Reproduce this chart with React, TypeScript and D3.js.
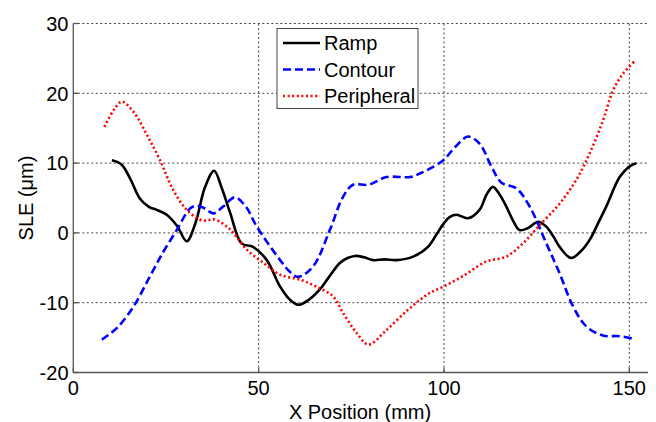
import React from "react";
import * as d3 from "d3";

const rampX = [10.4, 13, 15.5, 18, 20.5, 22.5, 25.2, 28, 30.6, 33, 35.5, 38, 40, 42.3, 45.4, 48.5, 52.2, 55.8, 58.5, 60.7, 63.5, 66.5, 69, 71.9, 74, 76, 78.5, 80.9, 84, 87.2, 91.7, 95.7, 98, 100, 101.6, 103.4, 106.5, 109.6, 111.5, 113.2, 115, 116.8, 118.6, 120.4, 122.7, 125.4, 127.6, 129.5, 131.2, 134.3, 137, 139.3, 141.5, 143.8, 147.4, 150, 151.9];
const rampY = [10.4, 9.8, 7.6, 4.9, 3.7, 3.3, 2.6, 1, -1.2, 1.5, 6.5, 8.9, 6.5, 2.9, -1.5, -2.0, -3.9, -7.7, -9.6, -10.3, -9.6, -8.1, -6.3, -4.3, -3.6, -3.3, -3.5, -3.9, -3.8, -3.9, -3.4, -2.0, -0.2, 1.4, 2.3, 2.6, 2.1, 3.3, 5.5, 6.6, 5.5, 3.8, 1.8, 0.4, 0.7, 1.6, 0.9, -0.5, -2.0, -3.6, -2.6, -1.0, 1.3, 3.8, 8.0, 9.5, 10.0];

const contourX = [7.7, 11.8, 16.3, 20.7, 24.3, 27.9, 31.5, 33.3, 35.5, 37.8, 40.5, 43.6, 46.5, 49.5, 55.8, 58.5, 60.7, 64.7, 69.2, 72.8, 75.5, 79.6, 84.5, 90.8, 93.5, 96.2, 99.8, 103, 106.5, 109.6, 112.8, 115.5, 119.5, 123.1, 127.6, 131.2, 134.8, 138.4, 142.9, 147.4, 151.4];
const contourY = [-15.3, -13.6, -10.5, -6.2, -2.7, 0.4, 3.5, 3.9, 3.5, 2.8, 3.8, 5.1, 3.8, 0.9, -3.9, -5.6, -6.3, -4.8, 0.4, 5.2, 6.9, 6.9, 8.0, 8.0, 8.5, 9.2, 10.4, 12.3, 13.8, 12.8, 9.5, 7.2, 6.4, 3.8, -1.5, -5.8, -10.5, -13.4, -14.7, -14.8, -15.2];

const periphX = [8.4, 10.9, 13.1, 16.3, 19.9, 23.4, 27, 30.6, 34.7, 38.3, 41.4, 43.2, 46.8, 51.3, 55.8, 61.2, 65.6, 70.1, 72.8, 76.4, 79.6, 84.5, 89.9, 93.5, 96.2, 99.8, 105.1, 111.4, 116.8, 121.3, 125.8, 131.2, 135.7, 139.3, 142.9, 145.6, 148.3, 151.4];
const periphY = [15.2, 17.6, 18.8, 17.3, 14, 10.4, 6.1, 3.3, 1.8, 1.9, 0.9, 0, -2.4, -4.3, -6.0, -6.7, -7.7, -9.1, -11.5, -14.3, -16, -13.9, -11.2, -9.6, -8.6, -7.7, -6.2, -4.1, -3.4, -1.5, 1.1, 4.2, 7.6, 11.4, 16.1, 20.4, 22.8, 24.6];

const xTicks = [0, 50, 100, 150];
const yTicks = [-20, -10, 0, 10, 20, 30];

const seriesNames = ["Ramp", "Contour", "Peripheral"];
const seriesColors = ["#000000", "#0000ff", "#ff0000"];
const seriesDash = ["none", "8,4", "2,2.6"];

export default function App() {
  const W = 656, H = 422;
  const left = 73.3, right = 648, top = 23.5, bottom = 372.5;
  const x = d3.scaleLinear().domain([0, 150]).range([left, 629.3]);
  const y = d3.scaleLinear().domain([-20, 30]).range([bottom, top]);

  const mk = (xs: number[], ys: number[]) =>
    d3.line<number>().x((_, i) => x(xs[i])).y((_, i) => y(ys[i])).curve(d3.curveCatmullRom.alpha(0.5))(xs.map((_, i) => i)) || "";

  const paths = [mk(rampX, rampY), mk(contourX, contourY), mk(periphX, periphY)];
  const font = "'Liberation Sans', Arial, sans-serif";
  const fs = 20;

  return (
    <svg width={W} height={H} style={{ position: "absolute", left: 0, top: 0, background: "#fff" }} fontFamily={font}>
      <rect x={0} y={0} width={W} height={H} fill="#fff" />
      {xTicks.filter((t) => t > 0).map((t) => (
        <line key={"gx" + t} x1={x(t)} x2={x(t)} y1={top} y2={bottom} stroke="#444" strokeWidth={1} strokeDasharray="2,2.5" />
      ))}
      {yTicks.filter((t) => t > -20).map((t) => (
        <line key={"gy" + t} x1={left} x2={right} y1={y(t)} y2={y(t)} stroke="#444" strokeWidth={1} strokeDasharray="2,2.5" />
      ))}
      {paths.map((p, i) => (
        <path key={i} d={p} fill="none" stroke={seriesColors[i]} strokeWidth={2.6} strokeDasharray={seriesDash[i]} />
      ))}
      <line x1={left} x2={left} y1={top} y2={bottom} stroke="#555" strokeWidth={1.3} />
      <line x1={left} x2={right} y1={bottom} y2={bottom} stroke="#555" strokeWidth={1.3} />
      {xTicks.map((t) => (
        <line key={"tx" + t} x1={x(t)} x2={x(t)} y1={bottom} y2={bottom - 5} stroke="#555" strokeWidth={1.3} />
      ))}
      {yTicks.map((t) => (
        <line key={"ty" + t} x1={left} x2={left + 5} y1={y(t)} y2={y(t)} stroke="#555" strokeWidth={1.3} />
      ))}
      {xTicks.map((t) => (
        <text key={"lx" + t} x={x(t)} y={394.5} textAnchor="middle" fontSize={fs} fill="#000">{t}</text>
      ))}
      {yTicks.map((t) => (
        <text key={"ly" + t} x={68.5} y={y(t) + 7.2} textAnchor="end" fontSize={fs} fill="#000">{t}</text>
      ))}
      <text x={360} y={419} textAnchor="middle" fontSize={fs} fill="#000">X Position (mm)</text>
      <text transform={`translate(33,${(top + bottom) / 2}) rotate(-90)`} textAnchor="middle" fontSize={fs} fill="#000">SLE (μm)</text>
      <rect x={277} y={28.5} width={141} height={80} fill="#fff" stroke="#444" strokeWidth={1} />
      {seriesNames.map((n, i) => {
        const ly = 43 + i * 26.5;
        return (
          <g key={n}>
            <line x1={283} x2={320} y1={ly} y2={ly} stroke={seriesColors[i]} strokeWidth={2.6} strokeDasharray={seriesDash[i]} />
            <text x={324} y={ly + 7.2} fontSize={fs} fill="#000">{n}</text>
          </g>
        );
      })}
    </svg>
  );
}
